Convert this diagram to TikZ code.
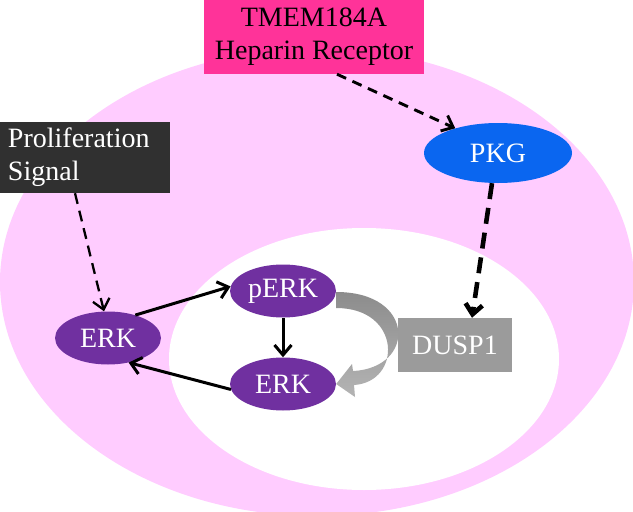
\documentclass[tikz,border=0pt]{standalone}
\usepackage{fontspec}
\setmainfont{Liberation Serif}
\usetikzlibrary{shapes.geometric,arrows.meta}
\definecolor{cellpink}{HTML}{FFCCFF}
\definecolor{tmempink}{HTML}{FF3399}
\definecolor{erkpurple}{HTML}{7030A0}
\definecolor{pkgblue}{HTML}{0A66F0}
\definecolor{signalgray}{HTML}{303030}
\definecolor{duspgray}{HTML}{9B9B9B}
\definecolor{looptop}{HTML}{8C8C8C}
\definecolor{loopbottom}{HTML}{B4B4B4}

\begin{document}
\begin{tikzpicture}[x=1pt,y=-1pt,
    font=\fontsize{28}{33}\selectfont,
    >={Straight Barb[length=10pt,width=17pt]},
    erk/.style={ellipse,fill=erkpurple,text=white,minimum width=106,minimum height=53,inner sep=0},
    thinarrow/.style={->,line width=3pt},
    signaldash/.style={->,line width=2.3pt,dash pattern=on 11pt off 7pt},
    tmemdash/.style={->,line width=2.9pt,dash pattern=on 10pt off 7pt},
    pkgdash/.style={->,line width=4.6pt,dash pattern=on 16pt off 9pt}]
    \useasboundingbox (0,0) rectangle (633,512);

    % cell and nucleus
    \begin{scope}
        \clip (0,0) rectangle (633,512);
        \fill[cellpink] (317,282) ellipse [x radius=317, y radius=234];
    \end{scope}
    \fill[white] (364,359) ellipse [x radius=195, y radius=131];

    \node[fill=tmempink,minimum width=220,minimum height=74,align=center,inner sep=0] (tmem) at (314,37) {TMEM184A\\Heparin Receptor};
    \node[fill=signalgray,text=white,minimum height=71,inner xsep=8pt,text width=154,align=left] (signal) at (85,157.5) {Proliferation\\Signal};
    \node[ellipse,fill=pkgblue,text=white,minimum width=148,minimum height=60,inner sep=0] (pkg) at (498,153) {PKG};
    \node[fill=duspgray,text=white,minimum width=114,minimum height=54,inner sep=0] (dusp) at (455,345) {DUSP1};
    \node[erk] (erk) at (108,338) {ERK};
    \node[erk] (perk) at (283,291) {pERK};
    \node[erk] (erk2) at (283,384) {ERK};

    \draw[signaldash] ([xshift=-10pt]signal.south) -- ([xshift=-4pt]erk.north);
    \draw[tmemdash] ([xshift=23pt]tmem.south) -- (pkg.150);
    \draw[pkgdash] ([xshift=-6pt]pkg.south) -- ([xshift=17pt]dusp.north);

    \draw[thinarrow] (erk.40) -- (perk.175);
    \draw[thinarrow] (perk.south) -- (erk2.north);
    \draw[thinarrow] (erk2.186) -- (erk.-50);

    % dephosphorylation loop
    \shade[top color=looptop,bottom color=loopbottom]
        ([yshift=-1pt]perk.east) .. controls (416,292) and (416,368) .. (353,371)
        -- (352,364) -- (erk2.east) -- (355,397) -- (354,385)
        .. controls (402,382) and (402,308) .. ([yshift=-17pt]perk.east) -- cycle;
\end{tikzpicture}
\end{document}
